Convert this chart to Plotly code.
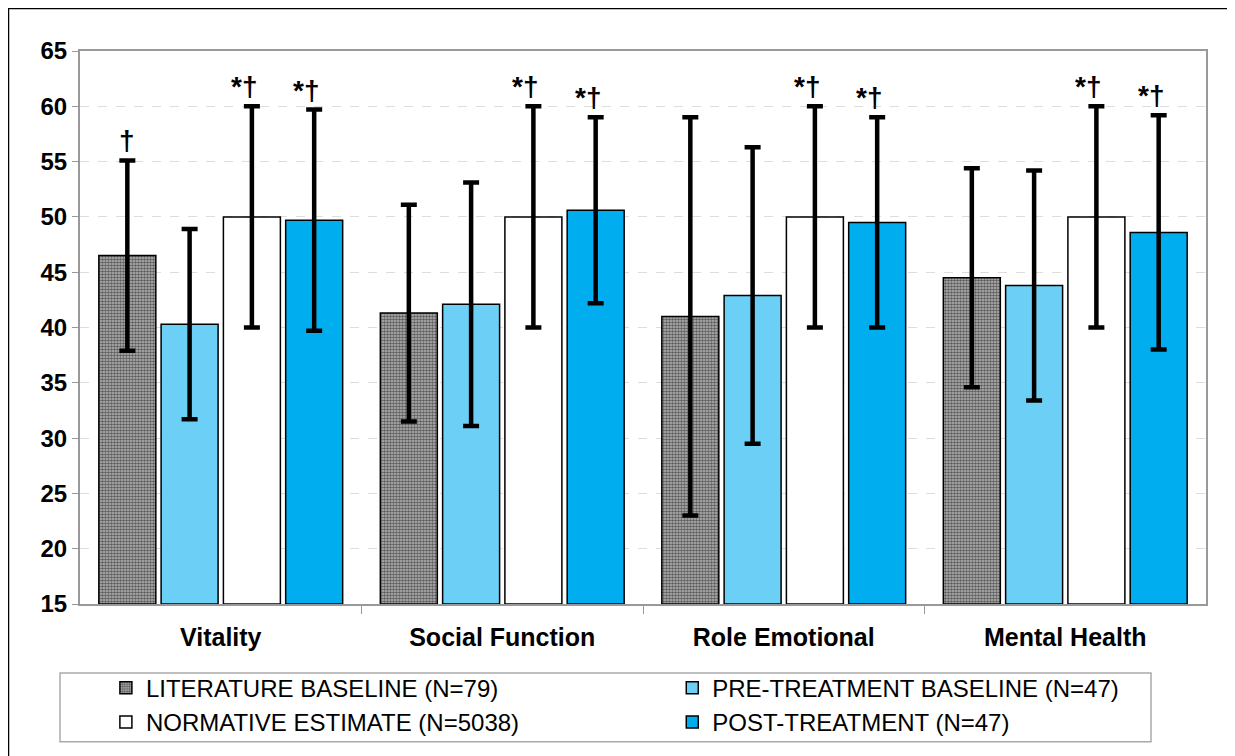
import plotly.graph_objects as go

categories = ["Vitality", "Social Function", "Role Emotional", "Mental Health"]
series_names = ["LITERATURE BASELINE (N=79)", "PRE-TREATMENT BASELINE (N=47)",
                "NORMATIVE ESTIMATE (N=5038)", "POST-TREATMENT (N=47)"]
literature = [46.5, 41.3, 41.0, 44.5]
literature_err = [8.6, 9.8, 18.0, 9.9]
pre_treatment = [40.3, 42.1, 42.9, 43.8]
pre_err = [8.6, 11.0, 13.4, 10.4]
normative = [50.0, 50.0, 50.0, 50.0]
normative_err = [10.0, 10.0, 10.0, 10.0]
post_treatment = [49.7, 50.6, 49.5, 48.6]
post_err = [10.0, 8.4, 9.5, 10.6]
literature_marks = ["†", "", "", ""]
pre_marks = ["", "", "", ""]
normative_marks = ["*†", "*†", "*†", "*†"]
post_marks = ["*†", "*†", "*†", "*†"]
y_ticks = [15, 20, 25, 30, 35, 40, 45, 50, 55, 60, 65]

values = [literature, pre_treatment, normative, post_treatment]
errors = [literature_err, pre_err, normative_err, post_err]
marks = [literature_marks, pre_marks, normative_marks, post_marks]
legend_ids = ["legend", "legend2", "legend", "legend2"]

group_frac = 0.885
n = len(values)
slot = group_frac / n
bar_w = slot * 0.915

fig = go.Figure()
markers = [
    dict(color="#bbbbbb", line=dict(color="black", width=1.5),
         pattern=dict(shape=".", fgcolor="black", bgcolor="#bbbbbb", size=3, solidity=0.6)),
    dict(color="#6CCFF6", line=dict(color="black", width=1.5)),
    dict(color="white", line=dict(color="black", width=1.5)),
    dict(color="#00AEEF", line=dict(color="black", width=1.5)),
]
base = 15
for j in range(n):
    xs = [i + (j - (n - 1) / 2) * slot for i in range(len(categories))]
    fig.add_trace(go.Bar(
        x=xs, y=[v - base for v in values[j]], base=base, width=bar_w,
        name=series_names[j], marker=markers[j], legend=legend_ids[j],
        error_y=dict(type="data", array=errors[j], visible=True,
                     color="black", thickness=4.5, width=8),
    ))
    for i, m in enumerate(marks[j]):
        if m:
            fig.add_annotation(
                x=xs[i], y=values[j][i] + errors[j][i], text="<b>%s</b>" % m,
                showarrow=False, yanchor="bottom", xanchor="center", yshift=2,
                xshift=-8 if len(m) > 1 else 0,
                font=dict(family="Arial", size=28, color="black"))

legend_style = dict(orientation="v", y=-0.1096, xanchor="left", yanchor="top",
                    font=dict(family="Arial", size=24, color="black"),
                    bgcolor="rgba(0,0,0,0)", itemwidth=30, tracegroupgap=0)

fig.update_layout(
    width=1227, height=748,
    margin=dict(l=72, r=29, t=43, b=151),
    paper_bgcolor="white", plot_bgcolor="white",
    barmode="overlay",
    font=dict(family="Arial", color="black"),
    showlegend=True,
    legend=dict(x=0.023, **legend_style),
    legend2=dict(x=0.526, **legend_style),
    xaxis=dict(range=[-0.5, len(categories) - 0.5],
               tickvals=list(range(len(categories))),
               ticktext=["<b>%s</b>" % c for c in categories],
               tickfont=dict(family="Arial", size=25, color="black"),
               ticklabelstandoff=10,
               showline=True, linecolor="#999999", linewidth=2, mirror=True,
               showgrid=False, ticks="", zeroline=False,
               minor=dict(tickvals=[i + 0.5 for i in range(len(categories) - 1)],
                          ticks="outside", ticklen=8, tickcolor="#999999", tickwidth=1)),
    yaxis=dict(range=[15, 65], tickvals=y_ticks,
               ticktext=["<b>%d</b>" % t for t in y_ticks],
               tickfont=dict(family="Arial", size=24, color="black"),
               showline=True, linecolor="#999999", linewidth=2, mirror=True,
               showgrid=True, gridcolor="#dddddd", griddash="dash", gridwidth=1,
               ticks="outside", ticklen=6, tickcolor="#999999", zeroline=False),
)

fig.add_shape(type="rect", xref="paper", yref="paper",
              x0=(60 - 80) / 1126, x1=(1151 - 80) / 1126,
              y0=(605 - 743) / 554, y1=(605 - 674) / 554,
              line=dict(color="#aaaaaa", width=1.5), layer="below")
fig.add_shape(type="rect", xref="paper", yref="paper",
              x0=(8 - 80) / 1126, x1=1.2,
              y0=-0.5, y1=(605 - 8) / 554,
              line=dict(color="black", width=2.5), layer="below")

fig.write_html("out.html")
